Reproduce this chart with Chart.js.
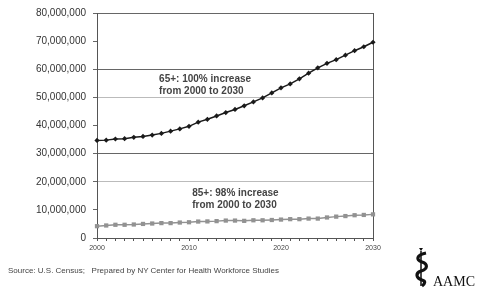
<!DOCTYPE html>
<html>
<head>
<meta charset="utf-8">
<script src="https://cdn.jsdelivr.net/npm/chart.js@4"></script>
<style>
  html, body { margin: 0; padding: 0; background: #fff; }
  #wrap { position: relative; width: 478px; height: 294px; overflow: hidden; }
  #source { position: absolute; left: 8px; top: 266px; font: 8px 'Liberation Sans', Arial, sans-serif; color: #444; white-space: pre; }
  #logo { position: absolute; left: 414px; top: 246px; width: 64px; height: 48px; }
  #logo span { position: absolute; left: 19px; top: 28px; font: 14px 'Liberation Serif', 'Times New Roman', serif; color: #111; }
</style>
</head>
<body>
<div id="wrap">
  <canvas id="chart" width="478" height="294"></canvas>
  <div id="source">Source: U.S. Census;   Prepared by NY Center for Health Workforce Studies</div>
  <div id="logo">
    <svg width="20" height="42" viewBox="0 0 20 42">
      <path d="M5 2 L9 2 L7 5 Z" fill="#111"/>
      <path d="M7 5 L7 40" stroke="#111" stroke-width="1.5"/>
      <path d="M12 7 C2 9 2 14 8 16 C14 18 14 23 7 25 C1 27 2 32 8 34 C12 35 11 38 8 40" stroke="#111" stroke-width="3.2" fill="none"/>
    </svg>
    <span>AAMC</span>
  </div>
</div>
<script>
// Data
const years = [2000, 2001, 2002, 2003, 2004, 2005, 2006, 2007, 2008, 2009,
               2010, 2011, 2012, 2013, 2014, 2015, 2016, 2017, 2018, 2019,
               2020, 2021, 2022, 2023, 2024, 2025, 2026, 2027, 2028, 2029, 2030];

const pop65 = [34.7, 34.8, 35.2, 35.3, 35.8, 36.1, 36.6, 37.2, 38.0, 38.8,
               39.7, 41.2, 42.2, 43.4, 44.6, 45.7, 47.0, 48.4, 49.8, 51.6,
               53.4, 54.8, 56.6, 58.6, 60.5, 62.1, 63.4, 65.0, 66.6, 68.0, 69.6].map(v => v * 1e6);

const pop85 = [4.2, 4.45, 4.7, 4.7, 4.8, 5.0, 5.15, 5.3, 5.3, 5.5,
               5.6, 5.85, 5.9, 6.0, 6.2, 6.2, 6.1, 6.3, 6.3, 6.4,
               6.55, 6.7, 6.7, 6.9, 6.9, 7.3, 7.6, 7.8, 8.1, 8.2, 8.4].map(v => v * 1e6);

const yTicksDark = [80e6, 60e6, 30e6];
const yTicksLight = [50e6, 20e6];

const notes = [
    { x: 6.75, y: 56.5e6, lines: ['65+: 100% increase', 'from 2000 to 2030'] },
    { x: 10.35, y: 15.8e6, lines: ['85+: 98% increase', 'from 2000 to 2030'] }
];

const FONT = "'Liberation Sans', Arial, sans-serif";

// Draw the text notes inside the plot
const notesPlugin = {
    id: 'notes',
    afterDatasetsDraw(chart) {
        const ctx = chart.ctx;
        const xs = chart.scales.x;
        const ys = chart.scales.y;
        ctx.save();
        ctx.font = 'bold 10px ' + FONT;
        ctx.fillStyle = '#444';
        ctx.textBaseline = 'middle';
        ctx.textAlign = 'left';
        notes.forEach(n => {
            const px = xs.getPixelForValue(n.x);
            const py = ys.getPixelForValue(n.y);
            n.lines.forEach((line, i) => ctx.fillText(line, px, py + i * 12));
        });
        ctx.restore();
    }
};

new Chart(document.getElementById('chart').getContext('2d'), {
    type: 'line',
    data: {
        labels: years,
        datasets: [{
            label: '65+',
            data: pop65,
            borderColor: '#1a1a1a',
            backgroundColor: '#1a1a1a',
            borderWidth: 1.5,
            pointStyle: 'rectRot',
            pointRadius: 2.6,
            pointBorderWidth: 0,
            tension: 0
        }, {
            label: '85+',
            data: pop85,
            borderColor: '#929292',
            backgroundColor: '#929292',
            borderWidth: 1.5,
            pointStyle: 'rect',
            pointRadius: 3,
            pointBorderWidth: 0,
            tension: 0
        }]
    },
    options: {
        responsive: false,
        animation: false,
        layout: {
            padding: { left: 0, top: 10, right: 105, bottom: 0 }
        },
        plugins: {
            legend: { display: false },
            tooltip: { enabled: false }
        },
        scales: {
            x: {
                afterFit: function(scale) { scale.height = 56; },
                border: { display: true, color: '#555', width: 1 },
                grid: {
                    color: ctx => ctx.index === years.length - 1 ? '#555' : 'rgba(0,0,0,0)',
                    tickColor: '#555',
                    tickLength: 3
                },
                ticks: {
                    autoSkip: false,
                    maxRotation: 0,
                    padding: 3,
                    color: '#444',
                    font: { family: FONT, size: 7 },
                    callback: function(value, index) {
                        const y = years[index];
                        return y % 10 === 0 ? String(y) : '';
                    }
                }
            },
            y: {
                min: 0,
                max: 80e6,
                afterFit: function(scale) { scale.width = 97; },
                border: { display: true, color: '#555', width: 1 },
                grid: {
                    color: ctx => {
                        const v = ctx.tick ? ctx.tick.value : null;
                        if (yTicksDark.includes(v)) return '#666';
                        if (yTicksLight.includes(v)) return '#bbb';
                        return 'rgba(0,0,0,0)';
                    },
                    tickColor: '#666',
                    tickLength: 4
                },
                ticks: {
                    stepSize: 10e6,
                    padding: 7,
                    color: '#333',
                    font: { family: FONT, size: 10 },
                    callback: value => value.toLocaleString('en-US')
                }
            }
        }
    },
    plugins: [notesPlugin]
});
</script>
</body>
</html>
